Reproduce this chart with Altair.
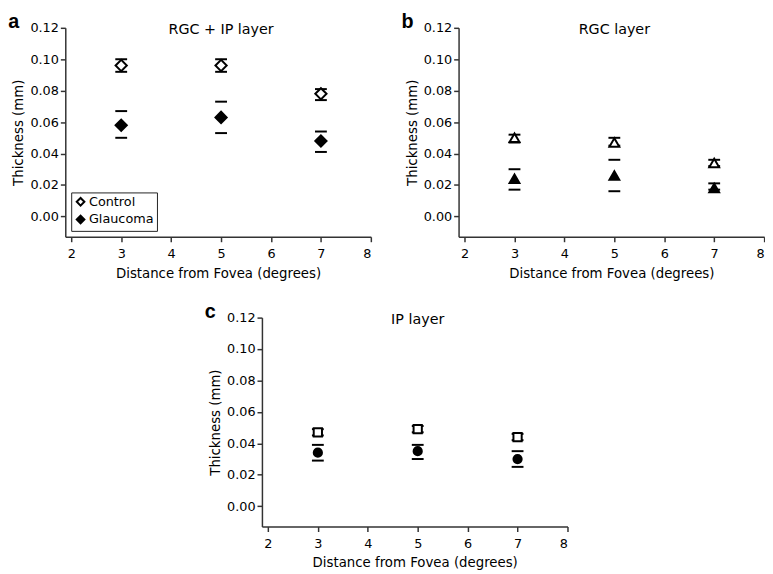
import altair as alt
import pandas as pd

distance = [3, 5, 7]
groups = ["Control", "Glaucoma"]

# panel a: RGC + IP layer
a_ctrl_mean = [0.096, 0.096, 0.078]
a_ctrl_lo = [0.092, 0.092, 0.074]
a_ctrl_hi = [0.100, 0.100, 0.081]
a_gl_mean = [0.058, 0.063, 0.048]
a_gl_lo = [0.050, 0.053, 0.041]
a_gl_hi = [0.067, 0.073, 0.054]

# panel b: RGC layer
b_ctrl_mean = [0.050, 0.047, 0.034]
b_ctrl_lo = [0.047, 0.045, 0.032]
b_ctrl_hi = [0.052, 0.050, 0.036]
b_gl_mean = [0.024, 0.026, 0.018]
b_gl_lo = [0.017, 0.016, 0.017]
b_gl_hi = [0.030, 0.036, 0.021]

# panel c: IP layer
c_ctrl_mean = [0.047, 0.049, 0.044]
c_ctrl_lo = [0.045, 0.047, 0.042]
c_ctrl_hi = [0.049, 0.051, 0.046]
c_gl_mean = [0.034, 0.035, 0.030]
c_gl_lo = [0.029, 0.030, 0.025]
c_gl_hi = [0.039, 0.039, 0.035]

x_ticks = [2, 3, 4, 5, 6, 7, 8]
y_ticks = [0.0, 0.02, 0.04, 0.06, 0.08, 0.10, 0.12]

FONT = "DejaVu Sans"
FS = 13
W, H = 310, 212


def panel(letter, label, cm, clo, chi, gm, glo, ghi, shapes, size, legend):
    pts = pd.DataFrame({
        "distance": distance * 2,
        "value": cm + gm,
        "group": ["Control"] * 3 + ["Glaucoma"] * 3,
    })
    caps = pd.DataFrame({
        "distance": distance * 4,
        "value": clo + chi + glo + ghi,
    })
    lab = pd.DataFrame({"distance": [5], "value": [0.1185], "t": [label]})
    xs = alt.Scale(domain=[1.88, 8], nice=False, zero=False)
    ys = alt.Scale(domain=[-0.013, 0.12], nice=False, zero=False)
    xenc = alt.X("distance:Q", scale=xs,
                 axis=alt.Axis(values=x_ticks, title="Distance from Fovea (degrees)",
                               labelOverlap=False))
    yenc = alt.Y("value:Q", scale=ys,
                 axis=alt.Axis(values=y_ticks, format=".2f",
                               title="Thickness (mm)", labelOverlap=False))
    cap_layer = alt.Chart(caps).mark_tick(orient="horizontal", size=12, thickness=2,
                                          color="black", opacity=1).encode(x=xenc, y=yenc)
    if legend:
        leg = alt.Legend(title=None, orient="bottom-left", offset=6, strokeColor="#222",
                         padding=3, labelFontSize=FS, labelFont=FONT, labelColor="#000",
                         symbolSize=60, rowPadding=1, labelOffset=2, symbolOpacity=1,
                         symbolStrokeWidth=2)
    else:
        leg = None
    point_layer = alt.Chart(pts).mark_point(filled=True, strokeWidth=2,
                                            opacity=1, size=size).encode(
        x=xenc, y=yenc,
        shape=alt.Shape("group:N", scale=alt.Scale(domain=groups, range=shapes), legend=leg),
        fill=alt.Fill("group:N", scale=alt.Scale(domain=groups, range=["white", "black"]), legend=leg),
        stroke=alt.Stroke("group:N", scale=alt.Scale(domain=groups, range=["black", "black"]), legend=leg),
    )
    text_layer = alt.Chart(lab).mark_text(
        fontSize=14.5, font=FONT, color="#000", baseline="middle").encode(
        x=xenc, y=yenc, text="t:N")
    return alt.layer(cap_layer, point_layer, text_layer).properties(
        width=W, height=H,
        title=alt.TitleParams(text=letter, anchor="start", frame="bounds", fontSize=20,
                              fontWeight="bold", font="Liberation Sans", offset=-10, dx=-4,
                              color="#000"))


pa = panel("a", "RGC + IP layer", a_ctrl_mean, a_ctrl_lo, a_ctrl_hi, a_gl_mean, a_gl_lo, a_gl_hi,
           ["diamond", "diamond"], 130, True)
pb = panel("b", "RGC layer", b_ctrl_mean, b_ctrl_lo, b_ctrl_hi, b_gl_mean, b_gl_lo, b_gl_hi,
           ["triangle-up", "triangle-up"], 100, False)
pc = panel("c", "IP layer", c_ctrl_mean, c_ctrl_lo, c_ctrl_hi, c_gl_mean, c_gl_lo, c_gl_hi,
           ["square", "circle"], 70, False)

res = dict(shape="independent", fill="independent", stroke="independent")
top = alt.hconcat(pa, pb, spacing=30).resolve_scale(**res).resolve_legend(**res)
chart = alt.vconcat(top, pc, spacing=22, center=True).resolve_scale(**res).resolve_legend(
    **res).properties(
    padding={"left": 0, "top": 0, "right": 0, "bottom": 0}
).configure_view(stroke=None).configure_axis(
    labelFont=FONT, titleFont=FONT, labelFontSize=FS, titleFontSize=13.5, titleFontWeight="normal",
    labelColor="#000", titleColor="#000", domainColor="#333", domainWidth=1.5,
    tickColor="#333", tickWidth=1.5, tickSize=5, grid=False, labelPadding=2, titlePadding=4
).configure_axisX(labelPadding=6, titlePadding=6)

chart.save("out.html", embed_options={"renderer": "svg", "actions": False})
